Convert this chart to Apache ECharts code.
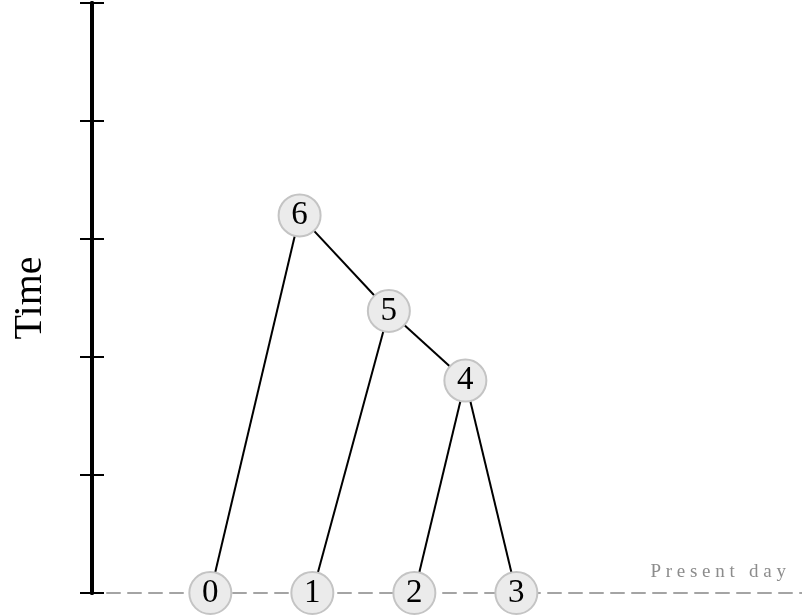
<!DOCTYPE html>
<html>
<head>
<meta charset="utf-8">
<script src="https://cdn.jsdelivr.net/npm/echarts@6/dist/echarts.min.js"></script>
<style>
  html, body { margin: 0; padding: 0; background: #fff; }
  #main { width: 802px; height: 615px; }
</style>
</head>
<body>
<div id="main"></div>
<script>
// tree nodes: id, horizontal slot, time
var nodeIds = ['0', '1', '2', '3', '4', '5', '6'];
var nodeX = [0, 1, 2, 3, 2.5, 1.75, 0.875];
var nodeTime = [0, 0, 0, 0, 1.8, 2.39, 3.2];
// parent -> child edges
var edges = [[6, 0], [6, 5], [5, 1], [5, 4], [4, 2], [4, 3]];
var timeTicks = [0, 1, 2, 3, 4, 5];

var serif = '"Liberation Serif", "DejaVu Serif", serif';

var chart = echarts.init(document.getElementById('main'));

var nodes = nodeIds.map(function (id, i) {
  return { name: id, value: [nodeX[i], nodeTime[i]] };
});
var links = edges.map(function (e) {
  return { source: nodeIds[e[0]], target: nodeIds[e[1]] };
});

var yBase = {
  type: 'value',
  min: timeTicks[0],
  max: timeTicks[timeTicks.length - 1],
  interval: 1,
  position: 'left',
  axisLabel: { show: false },
  splitLine: { show: false },
  axisLine: { show: true, onZero: false, lineStyle: { color: '#000', width: 4 } }
};

var option = {
  animation: false,
  grid: { left: 92, right: 0, top: 3, bottom: 22, containLabel: false, outerBoundsMode: 'none' },
  xAxis: {
    type: 'value',
    min: -1.16,
    max: 5.8,
    axisLabel: { show: false },
    axisTick: { show: false },
    splitLine: { show: false },
    // dashed "present day" baseline
    axisLine: { show: true, lineStyle: { color: '#a4a4a4', width: 2, type: [13, 8], dashOffset: 6 } }
  },
  yAxis: [
    Object.assign({}, yBase, {
      name: 'Time',
      nameLocation: 'middle',
      nameGap: 42,
      nameTextStyle: { fontFamily: serif, fontSize: 40, color: '#000' },
      axisTick: { show: true, inside: false, length: 12, lineStyle: { color: '#000', width: 2 } }
    }),
    Object.assign({}, yBase, {
      axisTick: { show: true, inside: true, length: 12, lineStyle: { color: '#000', width: 2 } }
    })
  ],
  series: [
    {
      type: 'line',
      data: [],
      silent: true,
      markLine: {
        symbol: 'none',
        silent: true,
        lineStyle: { color: 'rgba(0,0,0,0)', width: 0 },
        label: {
          show: true,
          position: 'insideEndTop',
          formatter: 'P r e s e n t   d a y',
          fontFamily: serif,
          fontSize: 19,
          color: '#8c8c8c',
          opacity: 1,
          distance: [16, 11]
        },
        data: [{ yAxis: 0 }]
      }
    },
    {
      type: 'graph',
      coordinateSystem: 'cartesian2d',
      symbol: 'circle',
      symbolSize: 42,
      data: nodes,
      links: links,
      itemStyle: { color: '#ebebeb', borderColor: '#c4c4c4', borderWidth: 2 },
      label: {
        show: true,
        position: 'inside',
        formatter: '{b}',
        fontFamily: serif,
        fontSize: 33,
        color: '#000'
      },
      lineStyle: { color: '#000', width: 2, opacity: 1 },
      z: 3
    }
  ]
};

chart.setOption(option);
</script>
</body>
</html>
